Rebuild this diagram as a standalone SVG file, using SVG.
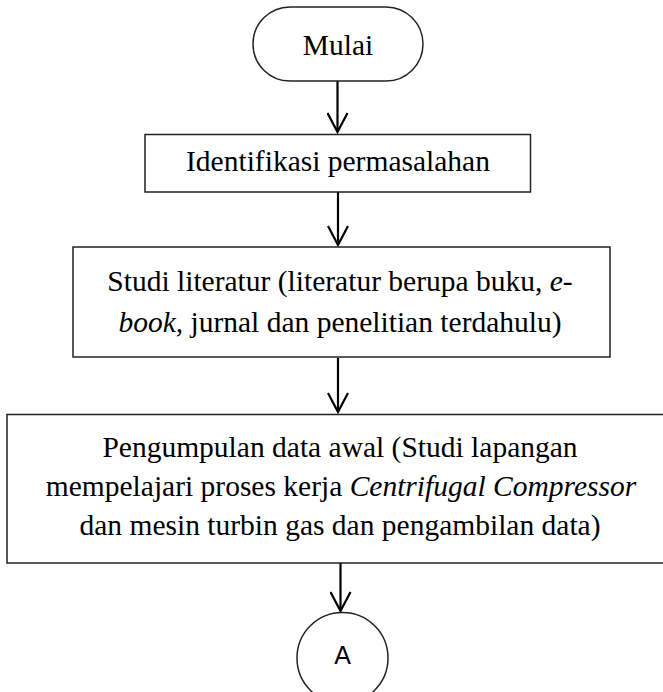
<svg xmlns="http://www.w3.org/2000/svg" width="663" height="692" viewBox="0 0 663 692">
  <defs>
    <style>
      .box { fill: #ffffff; stroke: #222222; stroke-width: 1.5; }
      .txt { font-family: "Liberation Serif", "Times New Roman", serif; font-size: 29.5px; fill: #000000; text-anchor: middle; }
      .it { font-style: italic; }
      .con { fill: none; stroke: #000000; stroke-width: 2.2; marker-end: url(#arrow); }
      .lbl { font-family: "Liberation Sans", Arial, sans-serif; font-size: 25px; fill: #000000; text-anchor: middle; }
    </style>
    <marker id="arrow" viewBox="0 0 22 22" refX="20" refY="11" markerWidth="22" markerHeight="22" markerUnits="userSpaceOnUse" orient="auto">
      <path d="M1,1 L20,11 L1,21" fill="none" stroke="#000000" stroke-width="2.2"/>
    </marker>
  </defs>
  <rect width="663" height="692" fill="#ffffff"/>

  <g id="connectors">
    <line class="con" x1="337.5" y1="81" x2="337.5" y2="132"/>
    <line class="con" x1="338" y1="192" x2="338" y2="245"/>
    <line class="con" x1="338" y1="358" x2="338" y2="412"/>
    <line class="con" x1="340.5" y1="563" x2="340.5" y2="611"/>
  </g>

  <g id="start">
    <rect class="box" x="253" y="7" width="170" height="74" rx="37" ry="37"/>
    <text class="txt" x="338" y="55">Mulai</text>
  </g>

  <g id="identifikasi">
    <rect class="box" x="145" y="134.5" width="385.5" height="57.5"/>
    <text class="txt" x="338" y="171">Identifikasi permasalahan</text>
  </g>

  <g id="studi-literatur">
    <rect class="box" x="73" y="247" width="537" height="110"/>
    <text class="txt" x="340" y="291">Studi literatur (literatur berupa buku, <tspan class="it">e</tspan>-</text>
    <text class="txt" x="340" y="332"><tspan class="it">book</tspan>, jurnal dan penelitian terdahulu)</text>
  </g>

  <g id="pengumpulan-data">
    <rect class="box" x="7" y="414.5" width="665" height="148.5"/>
    <text class="txt" x="340" y="457">Pengumpulan data awal (Studi lapangan</text>
    <text class="txt" x="341" y="496">mempelajari proses kerja <tspan class="it">Centrifugal Compressor</tspan></text>
    <text class="txt" x="340" y="535">dan mesin turbin gas dan pengambilan data)</text>
  </g>

  <g id="connector-a">
    <ellipse class="box" cx="342.5" cy="658" rx="45.5" ry="45.5"/>
    <text class="lbl" x="342.5" y="664">A</text>
  </g>
</svg>
